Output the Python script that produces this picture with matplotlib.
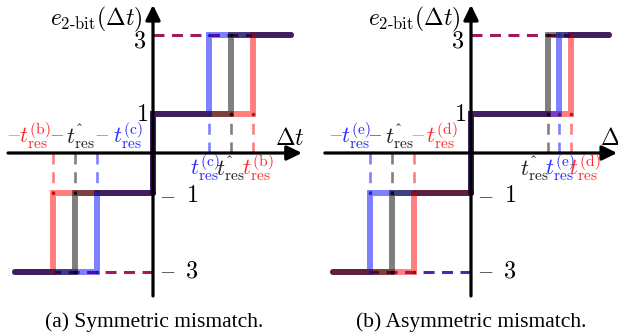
import matplotlib
matplotlib.use("Agg")
import matplotlib.pyplot as plt

plt.rcParams["mathtext.fontset"] = "cm"
plt.rcParams["font.family"] = ["Liberation Serif", "DejaVu Serif"]
plt.rcParams["lines.scale_dashes"] = False

# output levels of the 2-bit quantiser
lev_neg = [-3, -1]
lev_pos = [1, 3]

# transition points, in units of the drawing (negative side / positive side)
# order of each list: red, black (nominal), blue
sym_neg = [-2.53, -1.97, -1.42]
sym_pos = [2.53, 1.97, 1.42]
asym_neg = [-1.44, -2.0, -2.56]
asym_pos = [2.53, 1.95, 2.23]

red, grey, blue = "#ff0000", "#000000", "#0000ff"
dot_cols = {"r": "#b00000", "k": "#000000", "b": "#1a1aa0"}
S = 39.5  # pixels per unit
W, H = 618, 334

fig = plt.figure(figsize=(W / 100, H / 100), dpi=100)


def make_ax(left, ox, oy=153):
    ax = fig.add_axes([left / W, 0, 309 / W, 1])
    ax.set_xlim((left - ox) / S, (left + 309 - ox) / S)
    ax.set_ylim((oy - H) / S, oy / S)
    ax.axis("off")
    return ax


def step_halves(n, p, lo=-3.5, hi=3.5):
    neg = ([lo, n, n, 0], [lev_neg[0], lev_neg[0], lev_neg[1], lev_neg[1]])
    pos = ([0, 0, p, p, hi], [lev_neg[1], lev_pos[0], lev_pos[0], lev_pos[1], lev_pos[1]])
    return neg, pos


def draw(ax, negs, poss, neg_order, pos_order, dash3, dashm3, x_lo, x_hi):
    cols = [red, grey, blue]
    dks = [dot_cols["r"], dot_cols["k"], dot_cols["b"]]
    # dashed guides
    ax.plot([0, max(poss)], [3, 3], color=dash3, lw=2.2, dashes=(7.9, 5.4), zorder=1,
            dash_capstyle="butt")
    ax.plot([0, min(negs)], [-3, -3], color=dashm3, lw=2.2, dashes=(7.9, 5.4), zorder=1,
            dash_capstyle="butt")
    for c, n, p in zip(cols, negs, poss):
        ax.plot([p, p], [0, 1], color=c, alpha=0.5, lw=1.9, dashes=(7.9, 5.6), zorder=1,
                dash_capstyle="butt")
        ax.plot([n, n], [0, -1], color=c, alpha=0.5, lw=1.9, dashes=(7.9, 5.6), zorder=1,
                dash_capstyle="butt")
    halves = [step_halves(n, p) for n, p in zip(negs, poss)]
    for i in neg_order:
        x, y = halves[i][0]
        ax.plot(x, y, color=cols[i], alpha=0.5, lw=4.3, solid_capstyle="round",
                solid_joinstyle="miter", zorder=2)
    for i in pos_order:
        x, y = halves[i][1]
        ax.plot(x, y, color=cols[i], alpha=0.5, lw=4.3, solid_capstyle="round",
                solid_joinstyle="miter", zorder=2)
    for dk, n, p in zip(dks, negs, poss):
        ax.plot([n, n, p, p], [-3, -1, 1, 3], "o", ms=2.6, color=dk, alpha=0.8,
                mec="none", zorder=3)
    arrow = dict(arrowstyle="-|>,head_length=0.45,head_width=0.22", lw=2.3, color="k",
                 mutation_scale=20, shrinkA=0, shrinkB=0)
    ax.annotate("", xy=(x_hi, 0), xytext=(x_lo, 0), arrowprops=arrow, zorder=4)
    ax.annotate("", xy=(0, 3.75), xytext=(0, -3.62), arrowprops=arrow, zorder=4)


ax1 = make_ax(0, 153)
draw(ax1, sym_neg, sym_pos, [0, 2, 1], [0, 2, 1], "#a01a5c", "#a01a5c", -3.67, 3.77)
ax2 = make_ax(309, 471)
draw(ax2, asym_neg, asym_pos, [2, 0, 1], [0, 2, 1], "#a01a5c", "#4a28a8", -3.70, 3.70)


def ft(px, py, s, **kw):
    kw.setdefault("ha", "center")
    kw.setdefault("va", "center")
    fig.text(px / W, 1 - py / H, s, **kw)


hat = r"$t^{\mathrm{ˆ}}_{\mathrm{res}}$"
num = 17.5
lab = 16
mn = 13.5
lred, lblue, dred, dblue = "#ff8080", "#8080ff", "#ff2a2a", "#2a2aff"

for ox in (153, 471):
    ft(ox - 57, 19, r"$e_{\text{2-bit}}(\Delta t)$", size=17)
    ft(ox - 13, 42.5, "$3$", size=num)
    ft(ox - 11, 115.5, "$1$", size=num)
    for yy, d in ((197, "1"), (272, "3")):
        ft(ox + 14.5, yy, "$-$", size=15, color="#404040")
        ft(ox + 39, yy, "$" + d + "$", size=num)

ft(275, 145, r"$\Delta t$", ha="left", va="baseline", size=17)
ft(600, 145, r"$\Delta t$", ha="left", va="baseline", size=17)

# left panel tick labels
ft(14, 134, "$-$", size=mn, color=lred)
ft(19, 143, r"$t^{(\mathrm{b})}_{\mathrm{res}}$", ha="left", va="baseline", size=lab, color=dred)
ft(56.5, 134, "$-$", size=mn, color="#808080")
ft(66, 143, hat, ha="left", va="baseline", size=lab, color="#202020")
ft(102, 134, "$-$", size=mn, color=lblue)
ft(113, 143, r"$t^{(\mathrm{c})}_{\mathrm{res}}$", ha="left", va="baseline", size=lab, color=dblue)
ft(190, 175, r"$t^{(\mathrm{c})}_{\mathrm{res}}$", ha="left", va="baseline", size=lab, color=dblue)
ft(216, 175, hat, ha="left", va="baseline", size=lab, color="#202020")
ft(242, 175, r"$t^{(\mathrm{b})}_{\mathrm{res}}$", ha="left", va="baseline", size=lab, color=dred)

# right panel tick labels
ft(336, 134, "$-$", size=mn, color=lblue)
ft(341, 143, r"$t^{(\mathrm{e})}_{\mathrm{res}}$", ha="left", va="baseline", size=lab, color=dblue)
ft(375, 134, "$-$", size=mn, color="#606060")
ft(385, 143, hat, ha="left", va="baseline", size=lab, color="#202020")
ft(418, 134, "$-$", size=mn, color=lred)
ft(426, 143, r"$t^{(\mathrm{d})}_{\mathrm{res}}$", ha="left", va="baseline", size=lab, color=dred)
ft(520, 175, hat, ha="left", va="baseline", size=lab, color="#202020")
ft(545, 175, r"$t^{(\mathrm{e})}_{\mathrm{res}}$", ha="left", va="baseline", size=lab, color=dblue)
ft(569, 175, r"$t^{(\mathrm{d})}_{\mathrm{res}}$", ha="left", va="baseline", size=lab, color=dred)

ft(154, 322, "(a) Symmetric mismatch.", size=15.5)
ft(471, 322, "(b) Asymmetric mismatch.", size=15.5)

fig.savefig("out.png", dpi=100)
